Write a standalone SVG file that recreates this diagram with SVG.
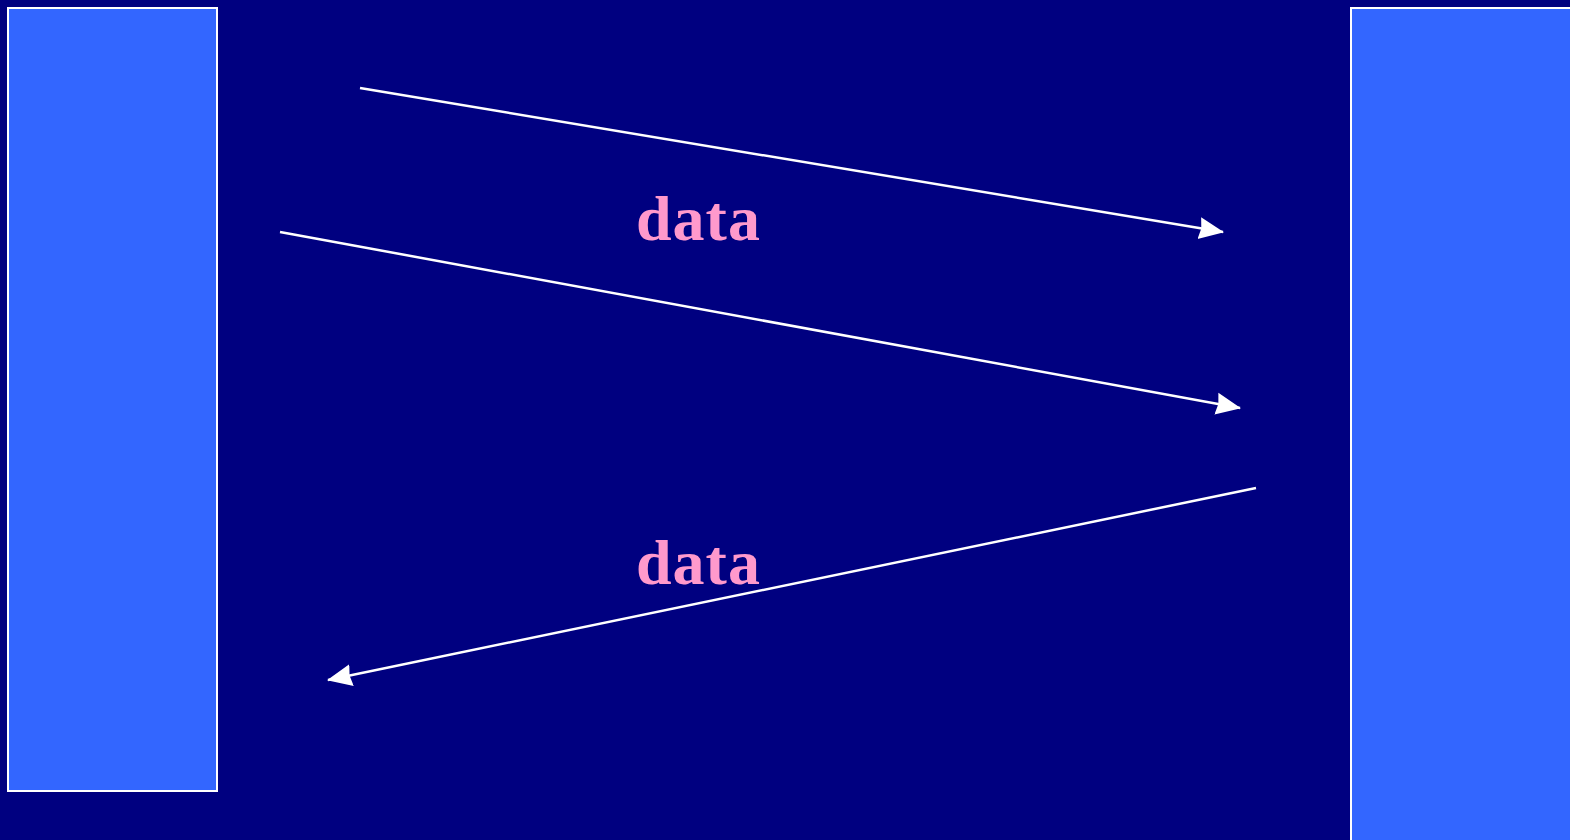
<svg xmlns="http://www.w3.org/2000/svg" width="1570" height="840" viewBox="0 0 1570 840">
<defs>
<style>
.box{fill:#3366FF;stroke:#FFFFFF;stroke-width:2}
.ln{stroke:#FFFFFF;stroke-width:2.5;fill:none}
.lbl{font-family:"Liberation Serif",serif;font-weight:bold;font-size:64px;fill:#FF99CC;letter-spacing:1px}
</style>
<marker id="ah" markerWidth="26" markerHeight="24" viewBox="0 0 26 24" refX="24" refY="12" orient="auto" markerUnits="userSpaceOnUse">
<path d="M0,1 L25,12 L0,23 L2,12 Z" fill="#FFFFFF"/>
</marker>
</defs>
<rect x="0" y="0" width="1570" height="840" fill="#000080"/>
<g id="left-node"><rect class="box" x="8" y="8" width="209" height="783"/></g>
<g id="right-node"><rect class="box" x="1351" y="8" width="230" height="840"/></g>
<g id="connectors">
<line class="ln" x1="360" y1="88" x2="1223" y2="232" marker-end="url(#ah)"/>
<line class="ln" x1="280" y1="232" x2="1240" y2="408" marker-end="url(#ah)"/>
<line class="ln" x1="1256" y1="488" x2="328" y2="680" marker-end="url(#ah)"/>
</g>
<g id="labels">
<text class="lbl" x="636" y="240">data</text>
<text class="lbl" x="636" y="584">data</text>
</g>
</svg>
